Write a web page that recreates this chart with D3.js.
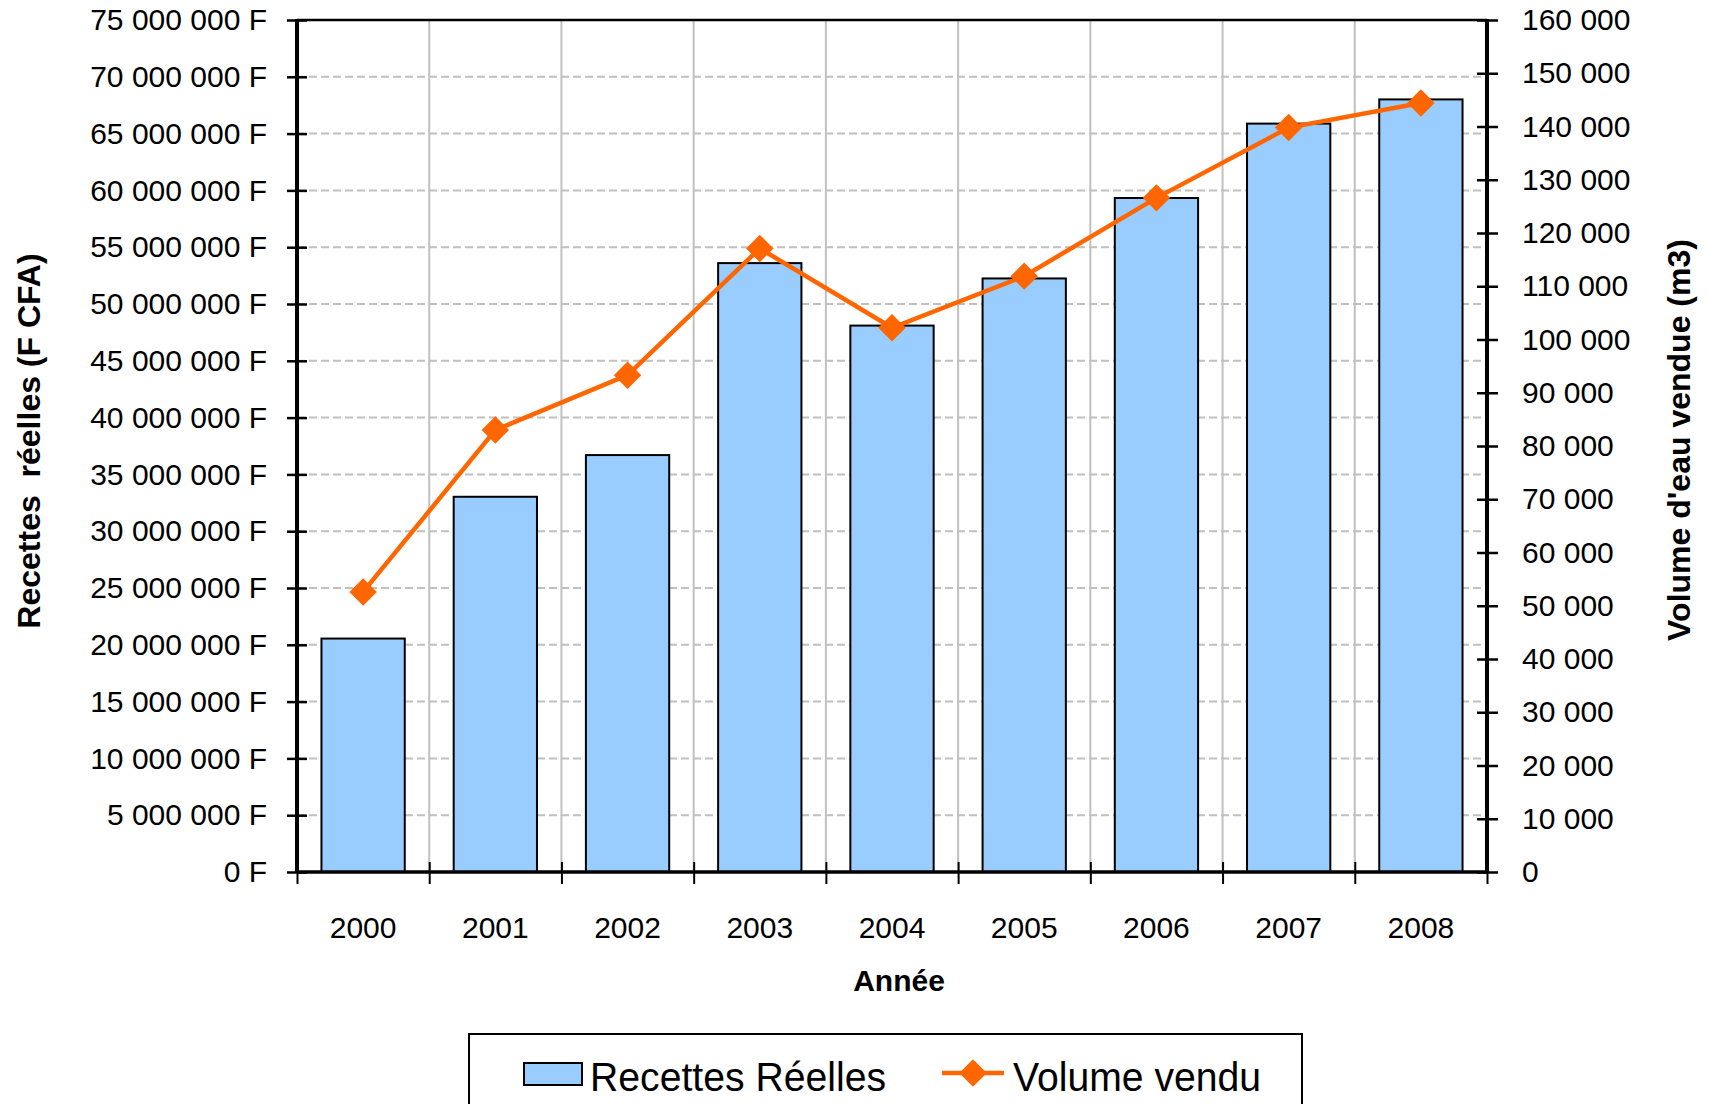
<!DOCTYPE html>
<html>
<head>
<meta charset="utf-8">
<script src="https://cdn.jsdelivr.net/npm/d3@7/dist/d3.min.js"></script>
<style>
  body { margin: 0; background: #fff; }
  text { font-family: "Liberation Sans", Arial, sans-serif; fill: #000; }
</style>
</head>
<body>
<svg id="chart"></svg>
<script>
// data
const years = ['2000', '2001', '2002', '2003', '2004', '2005', '2006', '2007', '2008'];
const recettes = [20550000, 33030000, 36700000, 53600000, 48100000, 52250000, 59330000, 65880000, 68010000];
const volume = [52600, 83000, 93300, 117100, 102200, 111900, 126600, 139800, 144400];
const leftTicks = d3.range(0, 75000001, 5000000);
const rightTicks = d3.range(0, 160001, 10000);

const width = 1714;
const height = 1104;
const margin = { top: 20, right: 227, bottom: 232, left: 297 };
const innerWidth = width - margin.left - margin.right;
const innerHeight = height - margin.top - margin.bottom;

const locale = d3.formatLocale({ decimal: ',', thousands: ' ', grouping: [3], currency: ['', ''] });
const fmt = locale.format(',');

const svg = d3.select('#chart')
  .attr('width', width)
  .attr('height', height);

const g = svg.append('g')
  .attr('transform', `translate(${margin.left},${margin.top})`);

// scales
const xBand = d3.scaleBand()
  .domain(years)
  .range([0, innerWidth])
  .paddingInner(0.37)
  .paddingOuter(0.185);

const xEdge = d3.scaleLinear()
  .domain([0, years.length])
  .range([0, innerWidth]);

const yLeft = d3.scaleLinear()
  .domain([0, 75000000])
  .range([innerHeight, 0]);

const yRight = d3.scaleLinear()
  .domain([0, 160000])
  .range([innerHeight, 0]);

// horizontal dashed grid (left axis ticks)
g.append('g')
  .selectAll('line')
  .data(leftTicks.slice(1))
  .enter()
  .append('line')
  .attr('x1', 0)
  .attr('x2', innerWidth)
  .attr('y1', d => yLeft(d))
  .attr('y2', d => yLeft(d))
  .attr('stroke', '#c0c0c0')
  .attr('stroke-width', 2)
  .attr('stroke-dasharray', '8,4');

// vertical grid at category boundaries
g.append('g')
  .selectAll('line')
  .data(d3.range(1, years.length))
  .enter()
  .append('line')
  .attr('x1', d => xEdge(d))
  .attr('x2', d => xEdge(d))
  .attr('y1', 0)
  .attr('y2', innerHeight)
  .attr('stroke', '#c0c0c0')
  .attr('stroke-width', 2);

// top border
g.append('line')
  .attr('x1', 0).attr('x2', innerWidth)
  .attr('y1', 0).attr('y2', 0)
  .attr('stroke', '#000')
  .attr('stroke-width', 2.5);

// bars
g.selectAll('.bar')
  .data(recettes)
  .enter()
  .append('rect')
  .attr('class', 'bar')
  .attr('x', (d, i) => xBand(years[i]))
  .attr('width', xBand.bandwidth())
  .attr('y', d => yLeft(d))
  .attr('height', d => innerHeight - yLeft(d))
  .attr('fill', '#99ccff')
  .attr('stroke', '#000')
  .attr('stroke-width', 2);

// line + markers
const cx = i => xBand(years[i]) + xBand.bandwidth() / 2;
const line = d3.line()
  .x((d, i) => cx(i))
  .y(d => yRight(d));

g.append('path')
  .datum(volume)
  .attr('fill', 'none')
  .attr('stroke', '#ff6600')
  .attr('stroke-width', 4.5)
  .attr('d', line);

const diamond = d3.symbol().type(d3.symbolDiamond2).size(480);
g.selectAll('.pt')
  .data(volume)
  .enter()
  .append('path')
  .attr('class', 'pt')
  .attr('transform', (d, i) => `translate(${cx(i)},${yRight(d)})`)
  .attr('d', diamond)
  .attr('fill', '#ff6600');

// left axis
const leftAxis = g.append('g')
  .call(d3.axisLeft(yLeft)
    .tickValues(leftTicks)
    .tickSize(10)
    .tickPadding(20)
    .tickFormat(d => `${fmt(d)} F`));
leftAxis.selectAll('.tick line').attr('x1', 10).attr('stroke-width', 2.5);
leftAxis.select('.domain').remove();
leftAxis.selectAll('text').attr('font-size', '30px').attr('font-family', '"Liberation Sans", Arial, sans-serif');

// right axis
const rightAxis = g.append('g')
  .attr('transform', `translate(${innerWidth},0)`)
  .call(d3.axisRight(yRight)
    .tickValues(rightTicks)
    .tickSize(11)
    .tickPadding(24)
    .tickFormat(d => fmt(d)));
rightAxis.selectAll('.tick line').attr('x1', -10).attr('stroke-width', 2.5);
rightAxis.select('.domain').remove();
rightAxis.selectAll('text').attr('font-size', '30px').attr('font-family', '"Liberation Sans", Arial, sans-serif');

// x axis: boundary ticks
const xTicks = g.append('g')
  .attr('transform', `translate(0,${innerHeight})`)
  .call(d3.axisBottom(xEdge)
    .tickValues(d3.range(0, years.length + 1))
    .tickSize(12)
    .tickFormat(''));
xTicks.selectAll('.tick line').attr('y1', -10).attr('stroke-width', 2);
xTicks.select('.domain').remove();

// x axis: category labels
const xLabels = g.append('g')
  .attr('transform', `translate(0,${innerHeight})`)
  .call(d3.axisBottom(xBand).tickSize(0).tickPadding(45));
xLabels.select('.domain').remove();
xLabels.selectAll('text').attr('font-size', '30px').attr('font-family', '"Liberation Sans", Arial, sans-serif');

// axis lines
g.append('line')
  .attr('x1', 0).attr('x2', 0).attr('y1', -1).attr('y2', innerHeight)
  .attr('stroke', '#000').attr('stroke-width', 4);
g.append('line')
  .attr('x1', innerWidth).attr('x2', innerWidth).attr('y1', -1).attr('y2', innerHeight)
  .attr('stroke', '#000').attr('stroke-width', 4);
g.append('line')
  .attr('x1', 0).attr('x2', innerWidth).attr('y1', innerHeight).attr('y2', innerHeight)
  .attr('stroke', '#000').attr('stroke-width', 3.5);

// axis titles
svg.append('text')
  .attr('transform', 'translate(40,441) rotate(-90)')
  .attr('text-anchor', 'middle')
  .attr('font-size', '32px')
  .attr('font-weight', 'bold')
  .attr('xml:space', 'preserve')
  .text('Recettes  réelles (F CFA)');

svg.append('text')
  .attr('transform', 'translate(1690,440) rotate(-90)')
  .attr('text-anchor', 'middle')
  .attr('font-size', '32px')
  .attr('font-weight', 'bold')
  .text("Volume d'eau vendue (m3)");

svg.append('text')
  .attr('x', margin.left + innerWidth / 2 + 7)
  .attr('y', 991)
  .attr('text-anchor', 'middle')
  .attr('font-size', '30px')
  .attr('font-weight', 'bold')
  .text('Année');

// legend
const legend = svg.append('g');
legend.append('rect')
  .attr('x', 469).attr('y', 1034)
  .attr('width', 833).attr('height', 100)
  .attr('fill', '#fff')
  .attr('stroke', '#000')
  .attr('stroke-width', 2);

legend.append('rect')
  .attr('x', 524).attr('y', 1063)
  .attr('width', 58).attr('height', 22)
  .attr('fill', '#99ccff')
  .attr('stroke', '#000')
  .attr('stroke-width', 2);

legend.append('text')
  .attr('x', 590).attr('y', 1091)
  .attr('font-size', '40px')
  .attr('textLength', 296)
  .attr('lengthAdjust', 'spacingAndGlyphs')
  .text('Recettes Réelles');

legend.append('line')
  .attr('x1', 942).attr('x2', 1004)
  .attr('y1', 1073).attr('y2', 1073)
  .attr('stroke', '#ff6600')
  .attr('stroke-width', 4.5);
legend.append('path')
  .attr('transform', 'translate(973,1073)')
  .attr('d', diamond)
  .attr('fill', '#ff6600');

legend.append('text')
  .attr('x', 1013).attr('y', 1091)
  .attr('font-size', '40px')
  .attr('textLength', 248)
  .attr('lengthAdjust', 'spacingAndGlyphs')
  .text('Volume vendu');
</script>
</body>
</html>
